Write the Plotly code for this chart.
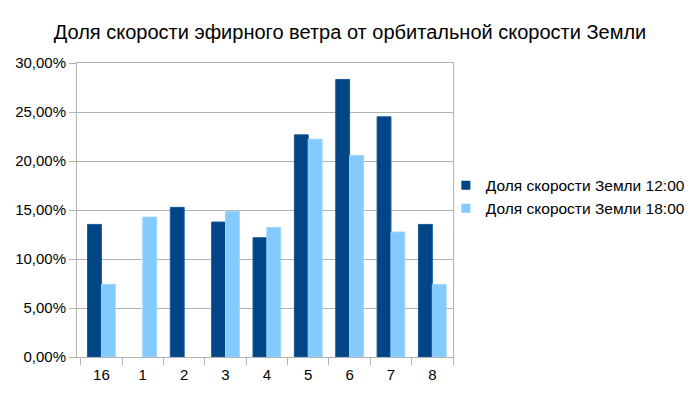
import plotly.graph_objects as go

categories = ["16", "1", "2", "3", "4", "5", "6", "7", "8"]
noon = [0.1353, None, 0.1527, 0.1377, 0.1217, 0.2267, 0.2832, 0.2451, 0.1353]
evening = [0.0740, 0.1428, None, 0.1483, 0.1322, 0.2222, 0.2055, 0.1275, 0.0740]
series_names = ["Доля скорости Земли 12:00", "Доля скорости Земли 18:00"]
colors = ["#004586", "#83caff"]
edge_colors = ["#1a5a94", "#9cd4ff"]
title = "Доля скорости эфирного ветра от орбитальной скорости Земли"

font = "Liberation Sans, Arial, sans-serif"

fig = go.Figure()
for vals, name, c, ec in zip([noon, evening], series_names, colors, edge_colors):
    fig.add_bar(x=categories, y=vals, name=name, showlegend=False,
                marker=dict(color=c, line=dict(color=ec, width=1)))
# legend entries with small square swatches
for name, c in zip(series_names, colors):
    fig.add_scatter(x=[categories[0]], y=[None], name=name, mode="markers",
                    marker=dict(symbol="square", size=9, color=c), hoverinfo="skip")

fig.update_layout(
    width=700, height=393,
    margin=dict(l=77, r=247, t=63, b=36, autoexpand=False),
    paper_bgcolor="white", plot_bgcolor="white",
    separators=", ",
    barmode="group", bargap=0.33, bargroupgap=0,
    title=dict(text=title, x=0.5, xref="container", xanchor="center",
               y=0.919, yref="container", yanchor="middle",
               font=dict(family=font, size=20, color="black")),
    font=dict(family=font, size=15, color="black"),
    showlegend=True,
    legend=dict(x=0.981, xanchor="left", y=0.544, yanchor="middle",
                font=dict(family=font, size=15.5, color="black"),
                itemwidth=30, tracegroupgap=0, bgcolor="rgba(0,0,0,0)"),
    xaxis=dict(showline=True, linecolor="#b3b3b3", linewidth=1, mirror=True,
               ticks="outside", tickson="boundaries", ticklen=7, tickcolor="#b3b3b3",
               ticklabelstandoff=4,
               showgrid=False, tickfont=dict(size=15)),
    yaxis=dict(range=[0, 0.30], dtick=0.05, tickformat=".2%",
               showline=True, linecolor="#b3b3b3", linewidth=1, mirror=True,
               ticks="outside", ticklen=7, tickcolor="#b3b3b3",
               showgrid=True, gridcolor="#b3b3b3", gridwidth=1,
               zeroline=False, tickfont=dict(size=15)),
)
fig.write_html("out.html", config={"displayModeBar": False},
               post_script="document.body.style.margin='0';")
